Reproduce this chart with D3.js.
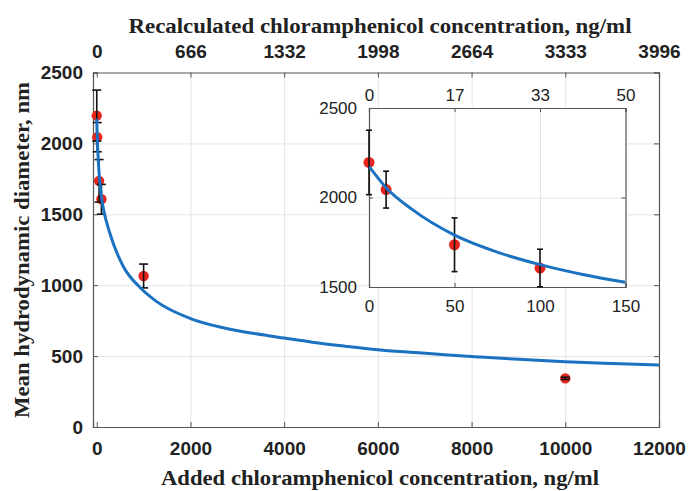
<!DOCTYPE html>
<html>
<head>
<meta charset="utf-8">
<script src="https://cdn.jsdelivr.net/npm/d3@7"></script>
<style>
  body { margin: 0; background: #fff; }
  .tick text { fill: #222; }
  .grid line { stroke: #e4e4e4; stroke-width: 1; }
  .grid path { display: none; }
</style>
</head>
<body>
<script>
// measured points (added concentration vs mean diameter)
var concAdded = [0, 10, 50, 100, 1000, 10000];
var diamMean = [2196, 2044, 1736, 1606, 1065, 343];
var diamErr = [180, 103, 150, 105, 84, 8];

// fitted curve
var fitX = [0, 10, 25, 50, 75, 100, 125, 150, 280, 570, 920, 1280, 2000, 2700, 3400, 4000, 4600, 5300, 6000, 6800, 7500, 8200, 9000, 10000, 11000, 12000];
var fitY = [2174, 2055, 1935, 1790, 1695, 1625, 1570, 1526, 1366, 1130, 985, 884, 765, 700, 657, 627, 598, 570, 545, 525, 508, 493, 477, 460, 448, 437];

// tick values / labels
var xTicks = [0, 2000, 4000, 6000, 8000, 10000, 12000];
var topLabels = ["0", "666", "1332", "1998", "2664", "3333", "3996"];
var yTicks = [0, 500, 1000, 1500, 2000, 2500];
var insetXTicks = [0, 50, 100, 150];
var insetTopLabels = ["0", "17", "33", "50"];
var insetYTicks = [1500, 2000, 2500];

var W = 691, H = 491;
var margin = {top: 72.5, right: 32, bottom: 64, left: 93},
    width = W - margin.left - margin.right,
    height = H - margin.top - margin.bottom;

var svg = d3.select("body").append("svg")
    .attr("width", W)
    .attr("height", H)
    .style("font-family", "'Liberation Sans', Arial, sans-serif");

var g = svg.append("g")
    .attr("transform", "translate(" + margin.left + "," + margin.top + ")");

var xScale = d3.scaleLinear().domain([-80, 12000]).range([0, width]);
var yScale = d3.scaleLinear().domain([0, 2500]).range([height, 0]);

var pts = concAdded.map(function(c, i) {
    return {x: c, y: diamMean[i], e: diamErr[i]};
});
var fit = fitX.map(function(x, i) { return {x: x, y: fitY[i]}; });

// grid
g.append("g").attr("class", "grid")
    .attr("transform", "translate(0," + height + ")")
    .call(d3.axisBottom(xScale).tickValues(xTicks.slice(1, -1)).tickSize(-height).tickFormat(""));
g.append("g").attr("class", "grid")
    .call(d3.axisLeft(yScale).tickValues(yTicks.slice(1, -1)).tickSize(-width).tickFormat(""));

function styleAxis(sel, size, weight) {
    sel.select(".domain").attr("stroke", "#555").attr("stroke-width", 1.2);
    sel.selectAll(".tick line").attr("stroke", "#555");
    sel.selectAll(".tick text")
        .style("font-size", size + "px")
        .style("font-weight", weight);
}

// axes, ticks pointing inward
g.append("g")
    .attr("transform", "translate(0," + height + ")")
    .call(d3.axisBottom(xScale).tickValues(xTicks).tickSize(-5).tickPadding(15).tickFormat(d3.format("d")))
    .call(styleAxis, 19, "bold");

g.append("g")
    .call(d3.axisTop(xScale).tickValues(xTicks).tickSize(-5).tickPadding(15)
        .tickFormat(function(d, i) { return topLabels[i]; }))
    .call(styleAxis, 19, "bold");

g.append("g")
    .call(d3.axisLeft(yScale).tickValues(yTicks).tickSize(-5).tickPadding(10).tickFormat(d3.format("d")))
    .call(styleAxis, 19, "bold");

g.append("g")
    .attr("transform", "translate(" + width + ",0)")
    .call(d3.axisRight(yScale).tickValues(yTicks).tickSize(-5).tickFormat(""))
    .call(styleAxis, 19, "bold");

// points, error bars, curve
function drawData(layer, xs, ys, r, cap, fitData, lw, clip) {
    layer.selectAll(".pt").data(pts).enter().append("circle")
        .attr("class", "pt")
        .attr("cx", function(d) { return xs(d.x); })
        .attr("cy", function(d) { return ys(d.y); })
        .attr("r", r)
        .attr("fill", "#e8251c");

    var eb = layer.selectAll(".eb").data(pts).enter().append("g").attr("class", "eb")
        .attr("stroke", "#111").attr("stroke-width", 1.6);
    eb.append("line")
        .attr("x1", function(d) { return xs(d.x); })
        .attr("x2", function(d) { return xs(d.x); })
        .attr("y1", function(d) { return ys(d.y - d.e); })
        .attr("y2", function(d) { return ys(d.y + d.e); });
    eb.append("line")
        .attr("x1", function(d) { return xs(d.x) - cap; })
        .attr("x2", function(d) { return xs(d.x) + cap; })
        .attr("y1", function(d) { return ys(d.y - d.e); })
        .attr("y2", function(d) { return ys(d.y - d.e); });
    eb.append("line")
        .attr("x1", function(d) { return xs(d.x) - cap; })
        .attr("x2", function(d) { return xs(d.x) + cap; })
        .attr("y1", function(d) { return ys(d.y + d.e); })
        .attr("y2", function(d) { return ys(d.y + d.e); });

    var line = d3.line()
        .curve(d3.curveMonotoneX)
        .x(function(d) { return xs(d.x); })
        .y(function(d) { return ys(d.y); });
    var p = layer.append("path")
        .datum(fitData)
        .attr("fill", "none")
        .attr("stroke", "#1a72c0")
        .attr("stroke-width", lw)
        .attr("d", line);
    if (clip) p.attr("clip-path", clip);
}

drawData(g.append("g"), xScale, yScale, 5.2, 4.5, fit, 3);

// inset
var inset = {left: 369, top: 108, width: 256.5, height: 179};
var ig = svg.append("g")
    .attr("transform", "translate(" + inset.left + "," + inset.top + ")");

var ixScale = d3.scaleLinear().domain([0, 150]).range([0, inset.width]);
var iyScale = d3.scaleLinear().domain([1500, 2500]).range([inset.height, 0]);

ig.append("rect")
    .attr("x", -1).attr("y", -1)
    .attr("width", inset.width + 2).attr("height", inset.height + 2)
    .attr("fill", "#fff");

svg.append("clipPath").attr("id", "insetClip")
    .append("rect").attr("width", inset.width).attr("height", inset.height);

ig.append("g").attr("class", "grid")
    .attr("transform", "translate(0," + inset.height + ")")
    .call(d3.axisBottom(ixScale).tickValues(insetXTicks.slice(1, -1)).tickSize(-inset.height).tickFormat(""));
ig.append("g").attr("class", "grid")
    .call(d3.axisLeft(iyScale).tickValues(insetYTicks.slice(1, -1)).tickSize(-inset.width).tickFormat(""));

ig.append("g")
    .attr("transform", "translate(0," + inset.height + ")")
    .call(d3.axisBottom(ixScale).tickValues(insetXTicks).tickSize(-4).tickPadding(13).tickFormat(d3.format("d")))
    .call(styleAxis, 17, "normal");
ig.append("g")
    .call(d3.axisTop(ixScale).tickValues(insetXTicks).tickSize(-4).tickPadding(7)
        .tickFormat(function(d, i) { return insetTopLabels[i]; }))
    .call(styleAxis, 17, "normal");
ig.append("g")
    .call(d3.axisLeft(iyScale).tickValues(insetYTicks).tickSize(-4).tickPadding(12).tickFormat(d3.format("d")))
    .call(styleAxis, 17, "normal");
ig.append("g")
    .attr("transform", "translate(" + inset.width + ",0)")
    .call(d3.axisRight(iyScale).tickValues(insetYTicks).tickSize(-4).tickFormat(""))
    .call(styleAxis, 17, "normal");

var insetPts = pts.filter(function(d) { return d.x <= 150; });
var idata = ig.append("g");
drawData(idata, ixScale, iyScale, 5.5, 3, fit.filter(function(d) { return d.x <= 150; }), 3, "url(#insetClip)");
idata.selectAll(".pt, .eb").filter(function(d) { return d.x > 150; }).remove();

// axis titles
var serif = "'Liberation Serif', 'Times New Roman', serif";
svg.append("text")
    .attr("x", 380).attr("y", 33)
    .attr("text-anchor", "middle")
    .attr("textLength", 503).attr("lengthAdjust", "spacingAndGlyphs")
    .style("font-family", serif).style("font-weight", "bold").style("font-size", "20px")
    .style("fill", "#222")
    .text("Recalculated chloramphenicol concentration, ng/ml");

svg.append("text")
    .attr("x", 380).attr("y", 485)
    .attr("text-anchor", "middle")
    .attr("textLength", 438).attr("lengthAdjust", "spacingAndGlyphs")
    .style("font-family", serif).style("font-weight", "bold").style("font-size", "20px")
    .style("fill", "#222")
    .text("Added chloramphenicol concentration, ng/ml");

svg.append("text")
    .attr("transform", "translate(29,250) rotate(-90)")
    .attr("text-anchor", "middle")
    .attr("textLength", 336).attr("lengthAdjust", "spacingAndGlyphs")
    .style("font-family", serif).style("font-weight", "bold").style("font-size", "20px")
    .style("fill", "#222")
    .text("Mean hydrodynamic diameter, nm");
</script>
</body>
</html>
